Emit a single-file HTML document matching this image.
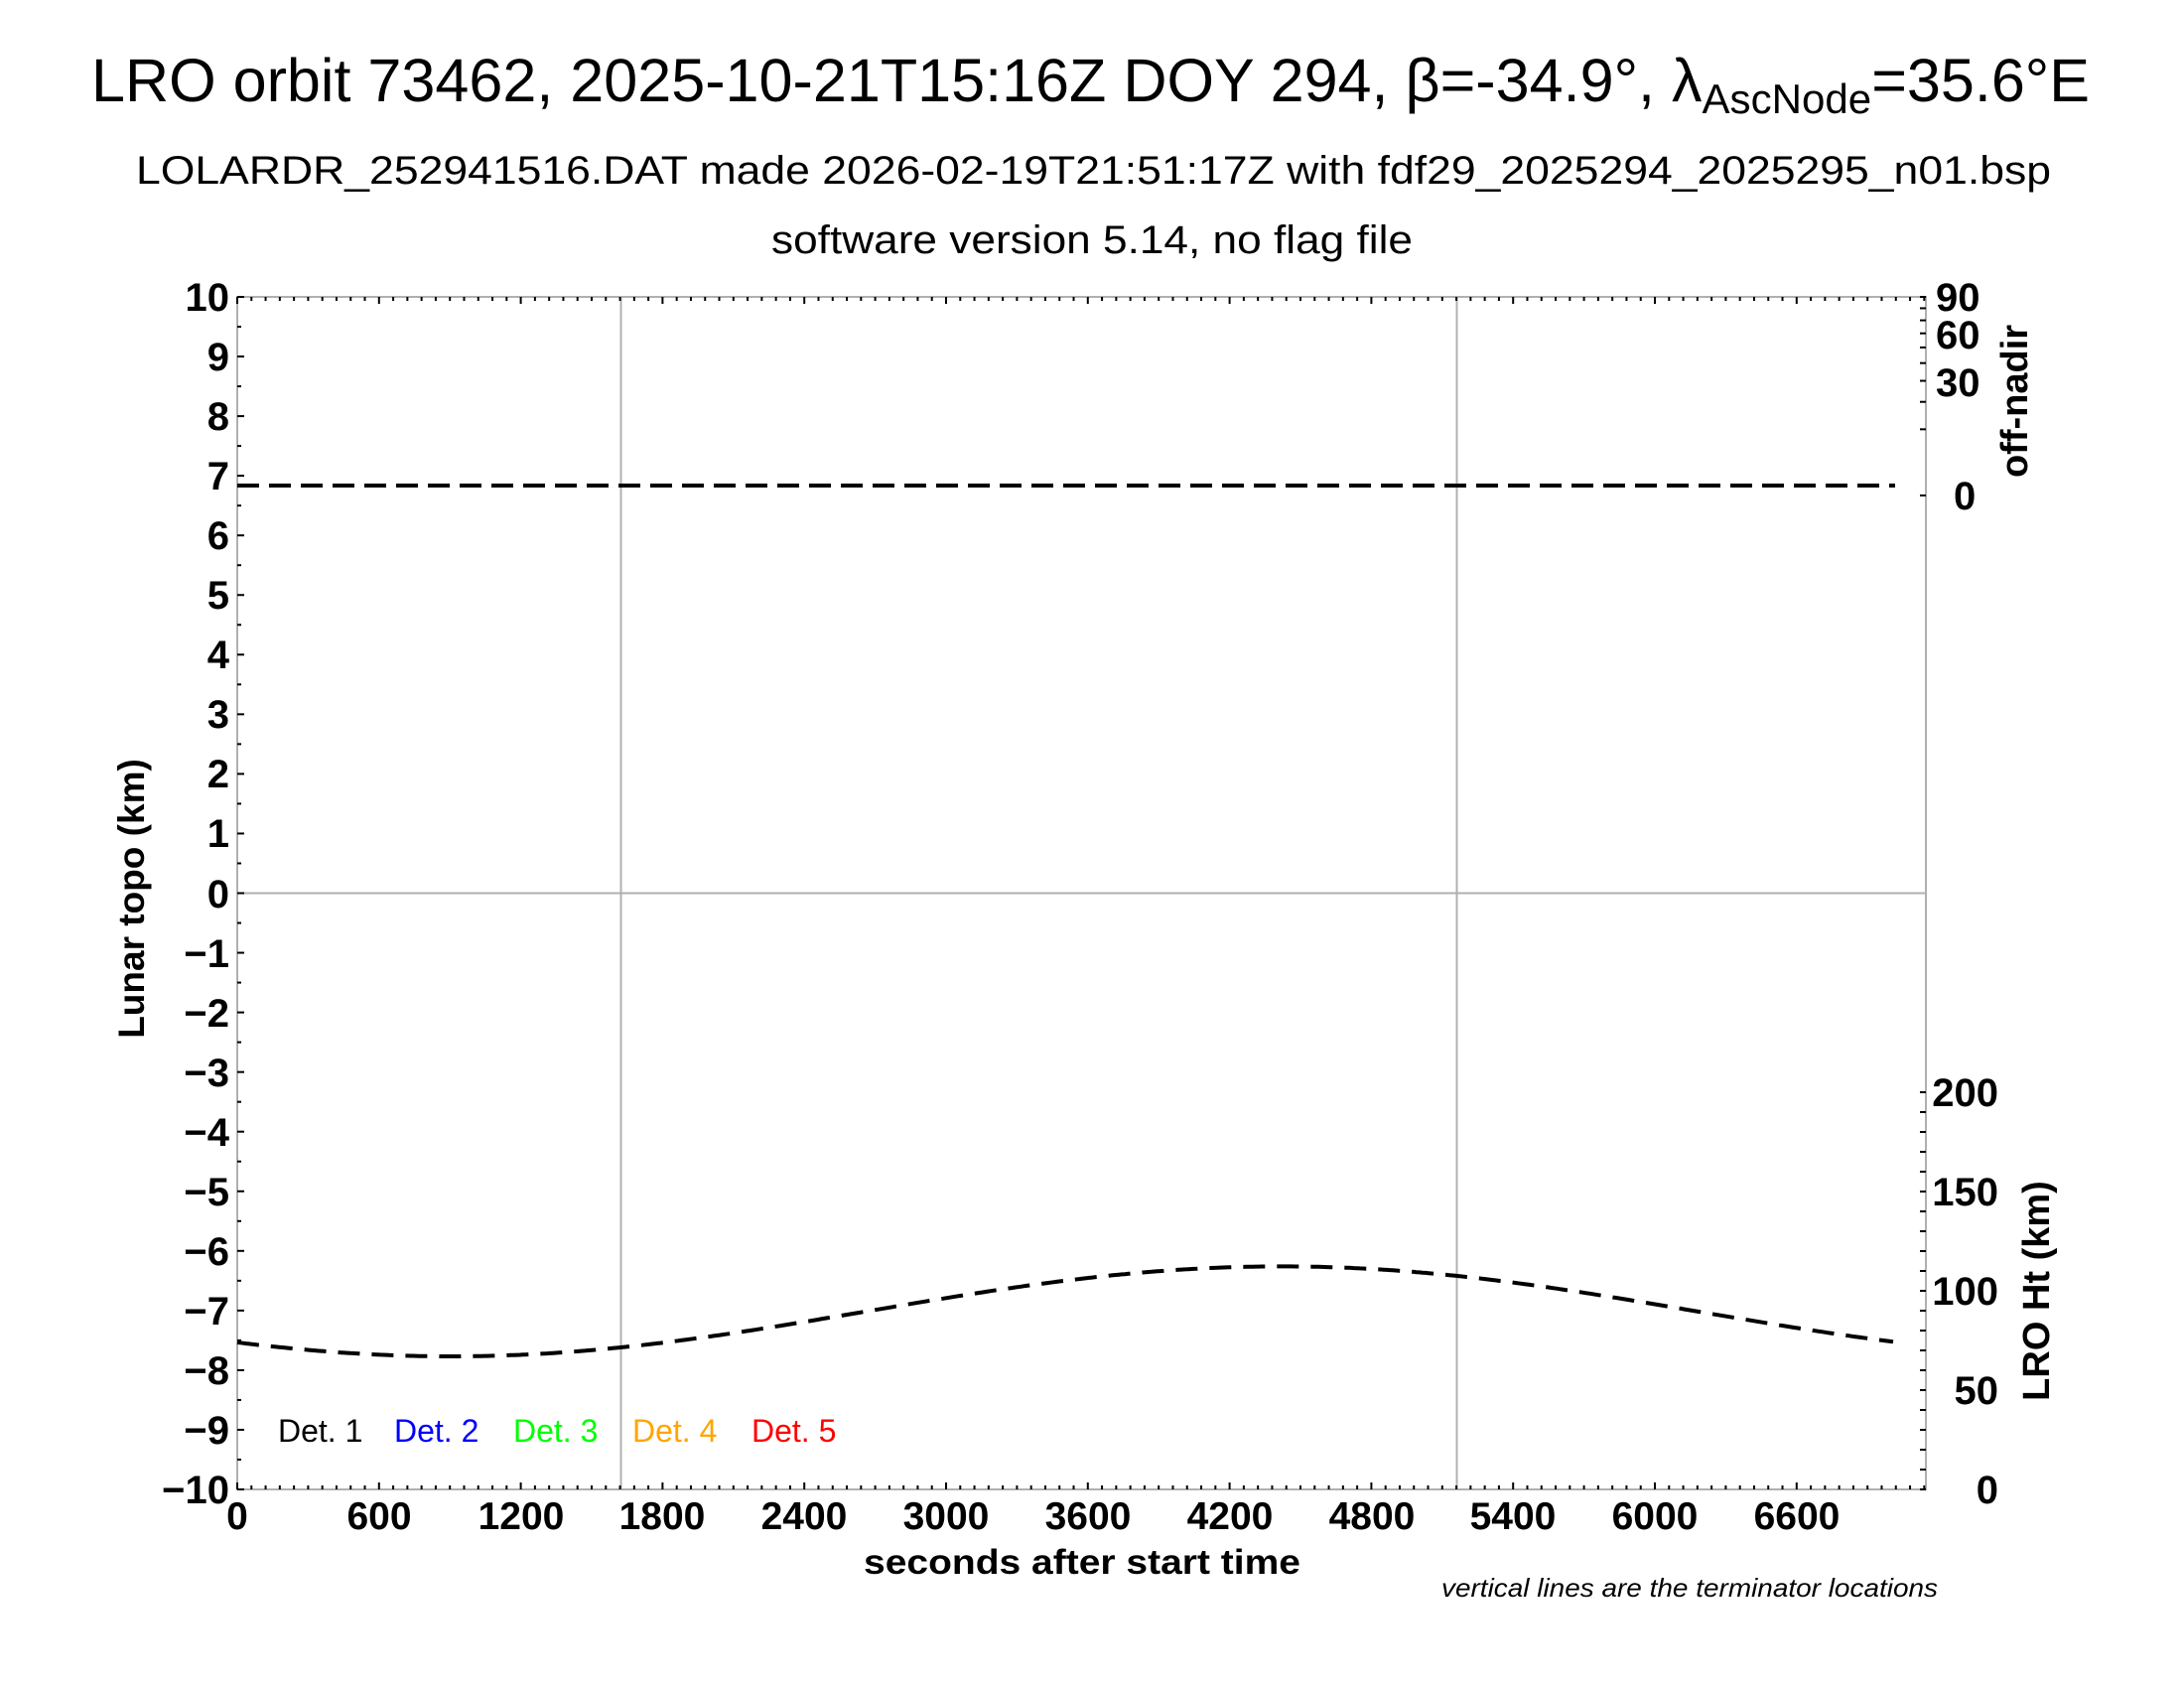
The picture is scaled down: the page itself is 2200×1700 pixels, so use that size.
<!DOCTYPE html>
<html><head><meta charset="utf-8"><style>
html,body{margin:0;padding:0;background:#fff;}
svg{display:block;}
text{font-family:"Liberation Sans",sans-serif;fill:#000;}
.b{font-weight:bold;}
</style></head><body>
<svg id="s" width="2200" height="1700" viewBox="0 0 2200 1700" xmlns="http://www.w3.org/2000/svg">
<rect width="2200" height="1700" fill="#fff"/>
<text x="92" y="102" font-size="61" textLength="2013" lengthAdjust="spacingAndGlyphs">LRO orbit 73462, 2025-10-21T15:16Z DOY 294, β=-34.9°, λ<tspan font-size="42" dy="12">AscNode</tspan><tspan dy="-12">=35.6°E</tspan></text>
<text x="137" y="185" font-size="40" textLength="1929" lengthAdjust="spacingAndGlyphs">LOLARDR_252941516.DAT made 2026-02-19T21:51:17Z with fdf29_2025294_2025295_n01.bsp</text>
<text x="777" y="255" font-size="40" textLength="646" lengthAdjust="spacingAndGlyphs">software version 5.14, no flag file</text>

<line x1="239" y1="899.5" x2="1940" y2="899.5" stroke="#b0b0b0" stroke-width="2"/>
<line x1="625.5" y1="299" x2="625.5" y2="1500" stroke="#b0b0b0" stroke-width="2"/>
<line x1="1467.5" y1="299" x2="1467.5" y2="1500" stroke="#b0b0b0" stroke-width="2"/>
<rect x="239" y="299" width="1701" height="1201" fill="none" stroke="#b0b0b0" stroke-width="2"/>
<g id="ticks" stroke="#000" stroke-width="2"></g>

<line x1="239" y1="489" x2="1909" y2="489" stroke="#000" stroke-width="4" stroke-dasharray="22,10"/>
<path id="ht" d="" fill="none" stroke="#000" stroke-width="4" stroke-dasharray="22,12"/>

<g class="b" font-size="40" text-anchor="end">
<text x="231" y="313">10</text><text x="231" y="373">9</text><text x="231" y="433">8</text>
<text x="231" y="493">7</text><text x="231" y="553">6</text><text x="231" y="613">5</text>
<text x="231" y="673">4</text><text x="231" y="733">3</text><text x="231" y="793">2</text>
<text x="231" y="853">1</text><text x="231" y="914">0</text><text x="231" y="974">−1</text>
<text x="231" y="1034">−2</text><text x="231" y="1094">−3</text><text x="231" y="1154">−4</text>
<text x="231" y="1214">−5</text><text x="231" y="1274">−6</text><text x="231" y="1334">−7</text>
<text x="231" y="1394">−8</text><text x="231" y="1454">−9</text><text x="231" y="1514">−10</text>
</g>
<g class="b" font-size="39" text-anchor="middle">
<text x="239" y="1540">0</text><text x="382" y="1540">600</text><text x="525" y="1540">1200</text>
<text x="667" y="1540">1800</text><text x="810" y="1540">2400</text><text x="953" y="1540">3000</text>
<text x="1096" y="1540">3600</text><text x="1239" y="1540">4200</text><text x="1382" y="1540">4800</text>
<text x="1524" y="1540">5400</text><text x="1667" y="1540">6000</text><text x="1810" y="1540">6600</text>
</g>
<g class="b" font-size="40">
<text x="1950" y="313">90</text><text x="1950" y="351">60</text><text x="1950" y="399">30</text>
<text x="1968" y="513">0</text>
</g>
<g class="b" font-size="40" text-anchor="end">
<text x="2013" y="1114">200</text><text x="2013" y="1214">150</text><text x="2013" y="1314">100</text>
<text x="2013" y="1414">50</text><text x="2013" y="1514">0</text>
</g>
<text class="b" font-size="37" text-anchor="middle" transform="translate(145,905) rotate(-90)">Lunar topo (km)</text>
<text class="b" font-size="38" text-anchor="middle" transform="translate(2042,404) rotate(-90)">off-nadir</text>
<text class="b" font-size="38" text-anchor="middle" transform="translate(2064,1300) rotate(-90)">LRO Ht (km)</text>
<text class="b" x="870" y="1585" font-size="35" textLength="440" lengthAdjust="spacingAndGlyphs">seconds after start time</text>
<text x="1452" y="1608" font-size="26" font-style="italic" textLength="500" lengthAdjust="spacingAndGlyphs">vertical lines are the terminator locations</text>
<g font-size="32">
<text x="280" y="1452" fill="#000">Det. 1</text>
<text x="397" y="1452" style="fill:#0000ff">Det. 2</text>
<text x="517" y="1452" style="fill:#00ff00">Det. 3</text>
<text x="637" y="1452" style="fill:#ffa500">Det. 4</text>
<text x="757" y="1452" style="fill:#ff0000">Det. 5</text>
</g>
</svg>
<script>
(function(){
var g=document.getElementById("ticks"),h="";
function L(x1,y1,x2,y2){h+='<line x1="'+x1+'" y1="'+y1+'" x2="'+x2+'" y2="'+y2+'"/>';}
var px=0.238;
for(var t=0;t<=7140;t+=60){var x=239+t*px;var m=(t%600==0)?7:4;L(x,1500,x,1500-m);L(x,299,x,299+m);}
for(var v=-10;v<=10;v+=0.5){var y=899.5-v*60.05;var m=(v%1==0)?7:4;L(239,y,239+m,y);}
for(var a=0;a<=90;a+=10){var y=499-200*Math.sqrt(a/90);L(1940,y,1934,y);}
for(var k=0;k<=200;k+=10){var y=1500-2*k;L(1940,y,1934,y);}
g.innerHTML=h;
var d="";
for(var x=239;x<=1909;x+=3){var t=(x-239)/px;var y=1320.7+45.3*Math.cos(2*Math.PI*(t-905)/7032);d+=(d?"L":"M")+x+","+y.toFixed(1);}
document.getElementById("ht").setAttribute("d",d);
})();
</script>
</body></html>
